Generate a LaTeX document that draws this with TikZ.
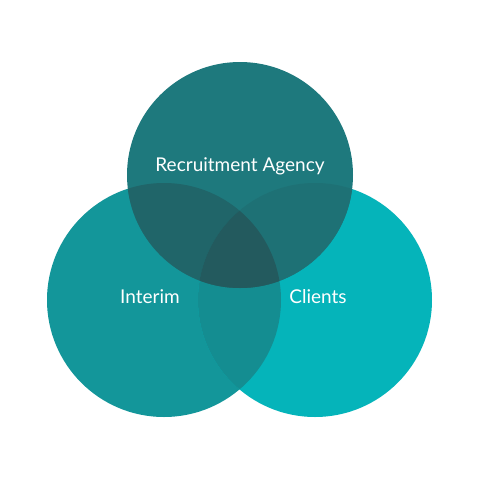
\documentclass[tikz,border=0pt]{standalone}
\usepackage{fontspec}
\setmainfont{Lato}
\definecolor{topcol}{HTML}{1E797D}
\definecolor{leftcol}{HTML}{13969A}
\definecolor{rightcol}{HTML}{05B4BA}
\definecolor{tlcol}{HTML}{206569}
\definecolor{trcol}{HTML}{1E7175}
\definecolor{lrcol}{HTML}{148D91}
\definecolor{midcol}{HTML}{235A5E}
\tikzset{lbl/.style={text=white, font=\fontsize{19}{23}\selectfont}}
\begin{document}
\begin{tikzpicture}[x=1pt,y=-1pt]
        \useasboundingbox[fill=white] (0,0) rectangle (480,480);
        \coordinate (cl) at (164,300);
        \coordinate (cr) at (315,300);
        \coordinate (ct) at (240,175);

        \fill[leftcol] (cl) circle (117);
        \fill[rightcol] (cr) circle (117);
        \fill[topcol] (ct) circle (113);

        % overlaps
        \begin{scope} \clip (cl) circle (117); \fill[lrcol] (cr) circle (117); \end{scope}
        \begin{scope} \clip (cl) circle (117); \fill[tlcol] (ct) circle (113); \end{scope}
        \begin{scope} \clip (cr) circle (117); \fill[trcol] (ct) circle (113); \end{scope}
        \begin{scope} \clip (cl) circle (117); \clip (cr) circle (117); \fill[midcol] (ct) circle (113); \end{scope}

        \node (agency) at (240,166) [lbl] {Recruitment Agency};
        \node (interim) at (150,297) [lbl] {Interim};
        \node (clients) at (318,297) [lbl] {Clients};
        \end{tikzpicture}
\end{document}
